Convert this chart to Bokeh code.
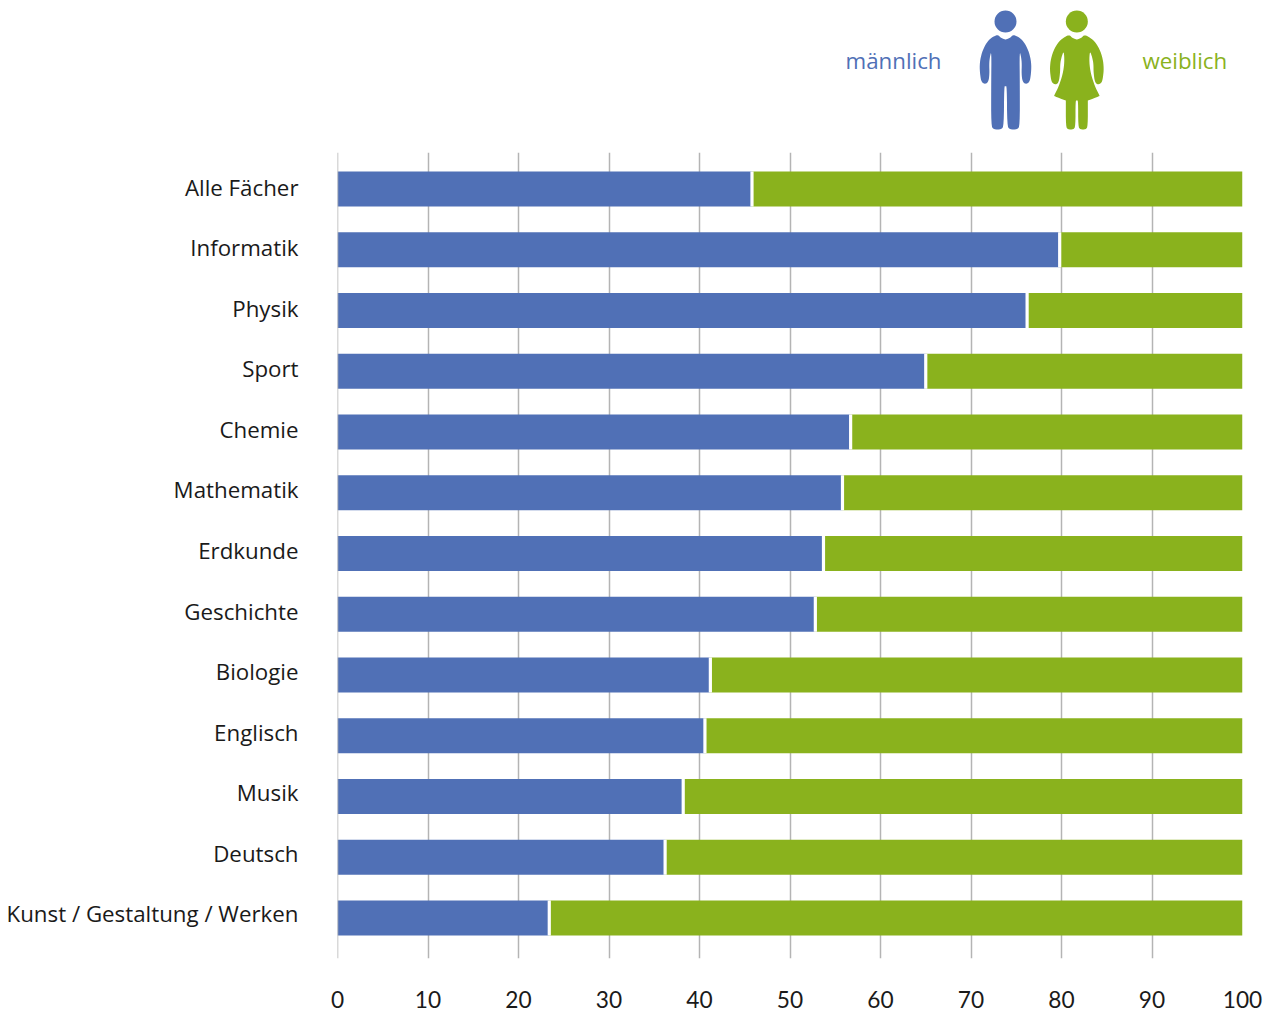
from bokeh.core.properties import value
from bokeh.embed import file_html
from bokeh.layouts import column
from bokeh.models import FixedTicker, LinearAxis, Range1d
from bokeh.plotting import figure
from bokeh.resources import INLINE

# Share of male students per subject, in percent; the rest is female.
subjects = ["Alle Fächer", "Informatik", "Physik", "Sport", "Chemie", "Mathematik",
            "Erdkunde", "Geschichte", "Biologie", "Englisch", "Musik", "Deutsch",
            "Kunst / Gestaltung / Werken"]
male_share = [45.8, 79.8, 76.2, 65.0, 56.7, 55.8, 53.7, 52.8, 41.2, 40.6, 38.2, 36.2, 23.4]
percent_ticks = [0, 10, 20, 30, 40, 50, 60, 70, 80, 90, 100]

BLUE = "#5070B6"
GREEN = "#8AB21D"
GRID = "#b4b4b4"
INK = "#1a1a1a"
FONT = "Open Sans"
FONT_SIZE = "22.3px"
ROW_STEP = 60.75
LABEL_STEP = 60.58


def smooth(points, rounds=2):
    """Round a closed outline by corner cutting."""
    for _ in range(rounds):
        out = []
        for i, (x0, y0) in enumerate(points):
            x1, y1 = points[(i + 1) % len(points)]
            out.append((0.75 * x0 + 0.25 * x1, 0.75 * y0 + 0.25 * y1))
            out.append((0.25 * x0 + 0.75 * x1, 0.25 * y0 + 0.75 * y1))
        points = out
    return points


def figure_outline(half, axis_x, scale, dx, dy):
    """Mirror a right-hand half outline around axis_x and place it on the header."""
    full = half + [(2 * axis_x - x, y) for x, y in reversed(half)]
    full = smooth(full)
    return [dx + x / scale for x, _ in full], [dy + y / scale for _, y in full]


man_half = [(90, 102), (104, 97), (112, 88), (125, 92), (140, 103), (153, 122), (163, 148),
            (168, 178), (166, 210), (162, 230), (150, 236), (141, 228), (138, 205), (139, 175),
            (137, 155), (132, 135), (133, 240), (133, 360), (126, 372), (102, 372), (95, 360),
            (94, 242), (90, 242)]
woman_half = [(304, 102), (318, 97), (326, 88), (340, 94), (357, 107), (372, 130), (382, 160),
              (385, 188), (383, 212), (379, 232), (367, 238), (358, 230), (354, 200), (354, 175),
              (350, 155), (343, 135), (341, 170), (346, 205), (358, 242), (372, 270), (372, 272),
              (337, 285), (337, 285), (337, 362), (331, 372), (314, 372), (308, 362), (308, 285),
              (304, 285)]

# Header with the two pictograms and their labels, laid out in pixels.
header = figure(frame_width=905, frame_height=140, x_range=Range1d(337, 1242),
                y_range=Range1d(140, 0), output_backend="svg", toolbar_location=None,
                min_border_left=337, min_border_right=41, min_border_top=0, min_border_bottom=0,
                outline_line_color=None)
header.axis.visible = False
header.grid.visible = False

for half, axis_x, color in ((man_half, 90, BLUE), (woman_half, 304, GREEN)):
    xs, ys = figure_outline(half, axis_x, 3, 975, 5)
    header.patch(xs, ys, fill_color=color, line_color=None)
    header.circle(x=[975 + axis_x / 3], y=[21], radius=11, fill_color=color, line_color=None)

header.text(x=[941], y=[60], text=["männlich"], text_align="right", text_baseline="middle",
            text_font=value(FONT), text_font_size=FONT_SIZE, text_color=BLUE)
header.text(x=[1142], y=[60], text=["weiblich"], text_align="left", text_baseline="middle",
            text_font=value(FONT), text_font_size=FONT_SIZE, text_color=GREEN)

# Stacked bars; row indices run top to bottom.
rows = list(range(len(subjects)))
chart = figure(frame_width=905, frame_height=806, output_backend="svg", toolbar_location=None,
               x_range=Range1d(0, 100),
               y_range=Range1d(12 + 40.5 / ROW_STEP, -36.5 / ROW_STEP),
               min_border_left=337, min_border_right=41, min_border_top=12,
               min_border_bottom=54, outline_line_color=None, y_axis_location=None)

chart.hbar(y=rows, left=0, right=male_share, height=35 / ROW_STEP, fill_color=BLUE, line_color=None)
chart.hbar(y=rows, left=male_share, right=100, height=35 / ROW_STEP, fill_color=GREEN, line_color=None)
chart.segment(x0=male_share, x1=male_share,
              y0=[r - 17.5 / ROW_STEP for r in rows], y1=[r + 17.5 / ROW_STEP for r in rows],
              line_color="white", line_width=3.2)

# The baseline at zero stays visible on top of the bars.
chart.segment(x0=[0], x1=[0], y0=[12 + 40.5 / ROW_STEP], y1=[-36.5 / ROW_STEP],
              line_color=GRID, line_width=1.5)

# The subject names sit on a slightly tighter pitch than the bars.
chart.extra_y_ranges = {"names": Range1d((806 - 34.5) / LABEL_STEP, -34.5 / LABEL_STEP)}
name_axis = LinearAxis(y_range_name="names", ticker=FixedTicker(ticks=rows),
                       major_label_overrides=dict(zip(rows, subjects)),
                       major_tick_out=0, major_tick_in=0)
name_axis.major_label_text_font = FONT
name_axis.major_label_text_font_size = FONT_SIZE
name_axis.major_label_standoff = 39
chart.add_layout(name_axis, "left")

# Percent scale; its compact digits leave room under the frame.
chart.xaxis.ticker = FixedTicker(ticks=percent_ticks)
chart.xaxis.major_label_text_font = "Lato"
chart.xaxis.major_label_text_font_size = "22.7px"
chart.xaxis.major_label_standoff = 26

for axis in (chart.xaxis[0], name_axis):
    axis.axis_line_color = None
    axis.major_tick_line_color = None
    axis.minor_tick_line_color = None
    axis.major_label_text_color = INK

chart.ygrid.visible = False
chart.xgrid.ticker = FixedTicker(ticks=percent_ticks)
chart.xgrid.grid_line_color = GRID
chart.xgrid.grid_line_width = 1.5

page = column(header, chart, spacing=0)
page.margin = 0
open("out.html", "w").write(file_html(page, INLINE))
